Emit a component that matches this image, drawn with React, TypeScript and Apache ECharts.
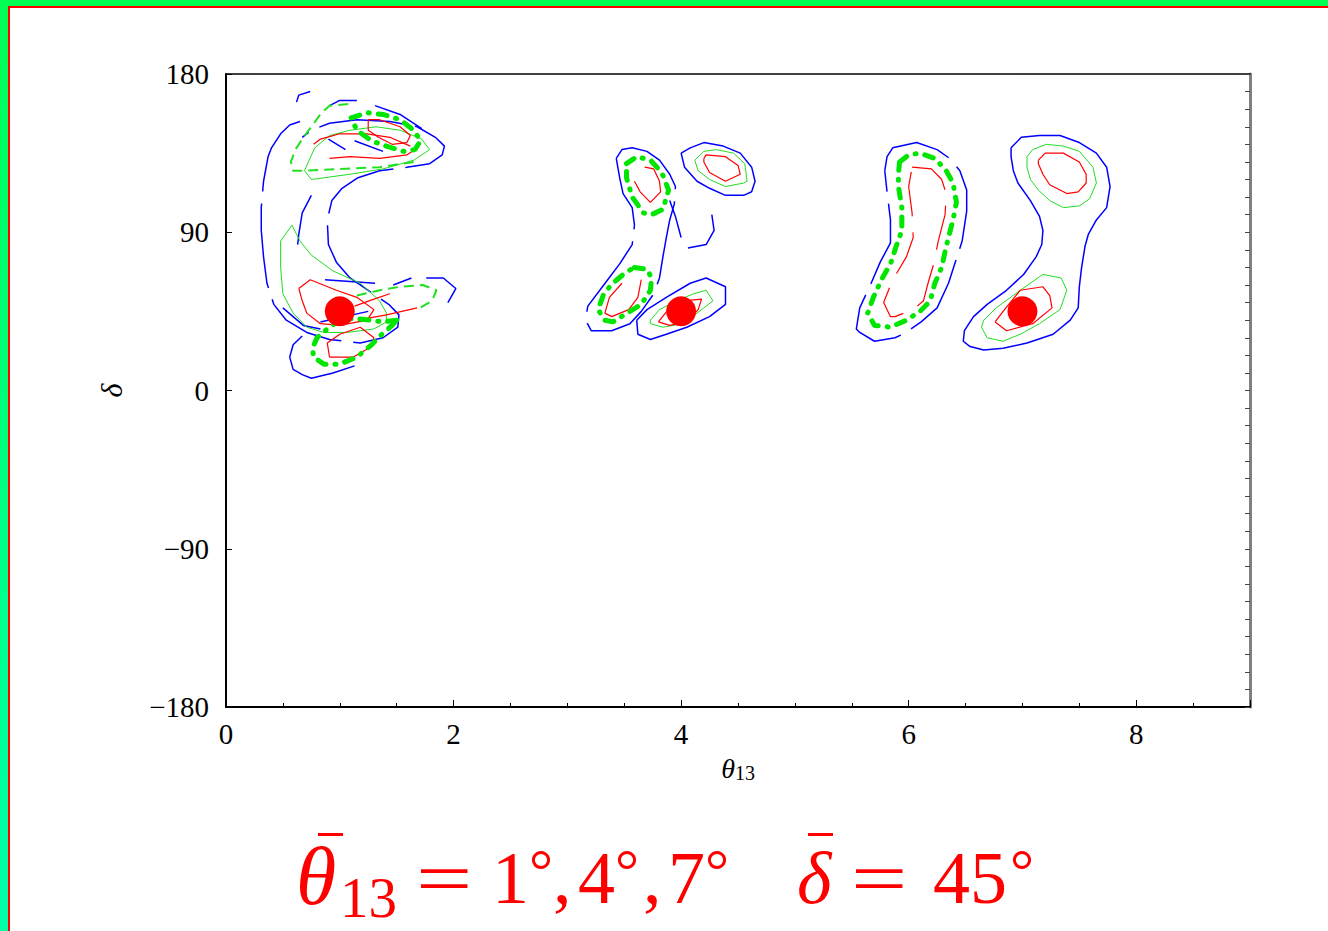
import React, { useEffect, useRef } from 'react';
import * as echarts from 'echarts';

// True points (θ13, δ) in degrees
const THETA_TRUE = [1, 4, 7];
const DELTA_TRUE = [45, 45, 45];

const X_MIN = 0, X_MAX = 9, X_STEP = 2;
const Y_MIN = -180, Y_MAX = 180, Y_STEP = 90;

// ---------- θ13 = 1° group ----------
const blue1Main = [[0.65,153],[0.56,151],[0.48,146],[0.40,138],[0.37,133],[0.33,119],[0.31,104],[0.31,91],[0.33,76],[0.36,61],[0.42,49],[0.53,40],[0.71,33],[0.91,29],[1.18,27],[1.38,30],[1.51,36],[1.52,43],[1.43,49],[1.25,57],[1.09,64],[0.97,73],[0.90,83],[0.89,97],[0.93,108],[1.02,115],[1.16,121],[1.35,125],[1.59,127],[1.79,129],[1.90,134],[1.92,139],[1.84,144],[1.68,150],[1.44,153],[1.15,154],[0.91,152],[0.75,148],[0.67,144]];
const blue1Low = [[0.67,31],[0.59,26],[0.56,19],[0.59,12],[0.67,9],[0.75,7],[0.94,10],[1.13,14]];
const blue1RightA = [[1.47,60],[1.63,64]];
const blue1RightB = [[1.76,64],[1.91,64],[2.02,58],[1.95,50]];
const blue1Inner = [[0.75,111],[0.67,101],[0.64,89],[0.63,83]];
const blue1Horiz = [[0.87,63],[1.31,61]];
const blue1LowLeft = [[0.50,47],[0.68,37],[0.83,35]];
const blue1NearDot = [[0.83,39],[1.25,45]];
const blue1TopA = [[0.62,164],[0.64,168],[0.74,170]];
const blue1TopB = [[0.91,162],[1.00,165],[1.15,165]];
const blue1TopC = [[1.31,162],[1.53,157],[1.72,149]];
const blue1InTopA = [[0.90,143],[1.05,137]];
const blue1InTopB = [[1.13,142],[1.38,136]];

const green1Low = [[0.58,94],[0.65,85],[0.75,77],[0.94,68],[1.18,61],[1.35,51],[1.41,44],[1.41,39],[1.30,35],[1.06,33],[0.86,33],[0.71,36],[0.59,44],[0.50,55],[0.48,70],[0.48,85],[0.58,94]];
const green1Up = [[0.69,125],[0.75,120],[1.09,123],[1.38,126],[1.65,131],[1.79,137],[1.72,143],[1.53,148],[1.32,150],[1.09,148],[0.91,145],[0.78,138],[0.69,125]];
const green1ThickUp = [[1.10,155],[1.24,158],[1.38,157],[1.53,154],[1.65,148],[1.71,142],[1.66,137],[1.56,136],[1.41,139],[1.28,142],[1.15,148],[1.10,155]];
const green1ThickLow = [[1.50,40],[1.38,39],[1.27,40],[1.12,41],[1.00,40],[0.89,35],[0.80,30],[0.76,24],[0.77,19],[0.86,15],[1.00,15],[1.15,19],[1.28,26],[1.37,32],[1.46,37],[1.50,40]];
const green1DashUp = [[1.65,130],[1.35,127],[1.00,126],[0.69,125],[0.59,125],[0.57,130],[0.61,137],[0.67,143],[0.75,150],[0.84,158],[0.91,162],[1.09,163]];
const green1DashRight = [[1.15,54],[1.35,57],[1.53,59],[1.73,60],[1.85,57],[1.81,51],[1.68,46]];

const red1Dot = [[0.64,58],[0.74,63],[0.97,57],[1.15,53],[1.30,46],[1.24,40],[1.00,37],[0.83,38],[0.71,44],[0.67,51],[0.64,58]];
const red1Low = [[0.91,19],[0.89,27],[1.00,32],[1.18,36],[1.30,30],[1.28,25],[1.12,19],[0.91,19]];
const red1StrokeA = [[1.13,48],[1.30,52],[1.44,55]];
const red1StrokeB = [[1.24,41],[1.41,43],[1.68,47]];
const red1Top = [[1.25,154],[1.35,154],[1.53,150],[1.62,145],[1.59,141],[1.46,140],[1.34,144],[1.25,148],[1.25,154]];
const red1UpperA = [[0.77,140],[0.83,143],[1.00,146],[1.24,146],[1.44,144],[1.62,139]];
const red1UpperB = [[0.91,132],[1.09,133],[1.35,132],[1.59,134],[1.66,137]];

// ---------- θ13 = 4° group ----------
const blue4Left = [[3.43,132],[3.48,137],[3.57,138],[3.70,136],[3.81,131],[3.90,123],[3.95,116],[3.94,106],[3.90,97],[3.87,87],[3.84,76],[3.81,64],[3.76,55],[3.65,45],[3.55,38],[3.39,34],[3.21,34],[3.16,40],[3.18,48],[3.32,60],[3.46,72],[3.57,83],[3.59,94],[3.57,104],[3.49,112],[3.46,121],[3.43,132]];
const blue4StrokeA = [[3.90,108],[3.95,99],[4.00,87]];
const blue4StrokeB = [[4.27,100],[4.29,91],[4.22,83],[4.06,81]];
const blue4UpRight = [[4.00,135],[4.08,138],[4.20,141],[4.37,139],[4.52,135],[4.62,127],[4.65,119],[4.62,113],[4.55,111],[4.39,111],[4.25,115],[4.14,119],[4.03,127],[4.00,135]];
const blue4Dot = [[3.61,40],[3.70,46],[3.87,53],[4.08,61],[4.22,64],[4.39,59],[4.39,49],[4.25,42],[4.05,36],[3.87,32],[3.73,29],[3.62,32],[3.61,40]];

const green4UpRight = [[4.12,131],[4.20,136],[4.31,137],[4.46,135],[4.56,129],[4.58,119],[4.55,118],[4.39,116],[4.25,120],[4.15,125],[4.12,131]];
const green4Dot = [[3.73,40],[3.81,46],[3.96,51],[4.11,55],[4.22,57],[4.28,51],[4.20,47],[4.02,38],[3.84,36],[3.73,38],[3.73,40]];
const green4ThickUp = [[3.52,129],[3.61,133],[3.73,131],[3.83,124],[3.89,114],[3.84,103],[3.74,100],[3.67,101],[3.57,110],[3.52,121],[3.52,129]];
const green4ThickLow = [[3.59,70],[3.70,69],[3.74,64],[3.73,57],[3.65,49],[3.55,45],[3.40,39],[3.33,40],[3.27,46],[3.32,55],[3.40,61],[3.51,67],[3.59,70]];

const red4UpRight = [[4.20,132],[4.22,134],[4.39,133],[4.50,128],[4.52,123],[4.39,119],[4.25,124],[4.20,130],[4.20,132]];
const red4UpLeft = [[3.68,127],[3.76,126],[3.81,119],[3.82,113],[3.73,107],[3.64,113],[3.59,119]];
const red4LowLeft = [[3.48,61],[3.37,53],[3.33,44],[3.39,42],[3.54,46],[3.62,53],[3.65,63]];
const red4Dot = [[3.80,39],[3.90,47],[4.02,51],[4.18,52],[4.15,46],[4.05,39],[3.90,37],[3.80,39]];

// ---------- θ13 = 7° group ----------
const blue6 = [[5.79,125],[5.81,133],[5.86,138],[6.07,141],[6.25,137],[6.36,132],[6.45,125],[6.51,114],[6.51,102],[6.47,85],[6.42,75],[6.35,61],[6.25,47],[6.11,39],[5.95,32],[5.88,30],[5.70,28],[5.57,33],[5.54,35],[5.57,47],[5.67,61],[5.75,73],[5.84,84],[5.84,97],[5.81,113],[5.79,125]];
const green6Thick = [[5.92,130],[6.00,134],[6.10,135],[6.23,132],[6.33,125],[6.39,118],[6.42,107],[6.39,97],[6.33,82],[6.29,70],[6.23,61],[6.19,51],[6.10,45],[5.98,40],[5.84,36],[5.70,37],[5.64,44],[5.69,53],[5.76,63],[5.84,72],[5.89,82],[5.94,91],[5.94,104],[5.91,116],[5.91,123],[5.92,130]];
const red6 = [[6.03,127],[6.20,126],[6.29,120],[6.33,112],[6.32,100],[6.26,85],[6.22,72],[6.17,61],[6.13,51],[6.04,46],[5.88,42],[5.84,42],[5.78,50],[5.86,63],[5.98,76],[6.04,87],[6.03,101],[6.00,116],[6.03,127]];

const blue7 = [[6.90,138],[6.99,144],[7.15,145],[7.33,145],[7.50,141],[7.65,135],[7.74,127],[7.77,116],[7.74,104],[7.65,97],[7.58,89],[7.55,82],[7.52,70],[7.50,59],[7.49,47],[7.42,40],[7.27,32],[7.04,27],[6.83,24],[6.66,23],[6.54,25],[6.48,28],[6.49,34],[6.57,42],[6.69,49],[6.86,57],[7.01,66],[7.12,76],[7.17,83],[7.18,91],[7.15,99],[7.07,108],[6.96,118],[6.92,125],[6.90,133],[6.90,138]];
const green7Up = [[7.04,133],[7.09,137],[7.21,140],[7.36,139],[7.50,136],[7.62,127],[7.65,118],[7.59,109],[7.50,105],[7.36,104],[7.24,108],[7.14,114],[7.07,120],[7.04,127],[7.04,133]];
const red7Up = [[7.14,131],[7.20,135],[7.36,135],[7.50,130],[7.56,123],[7.56,118],[7.49,113],[7.39,112],[7.24,117],[7.18,123],[7.14,129],[7.14,131]];
const green7Dot = [[6.66,40],[6.77,47],[6.98,57],[7.18,66],[7.34,64],[7.39,57],[7.33,46],[7.15,38],[6.98,32],[6.83,28],[6.69,30],[6.64,36],[6.66,40]];
const red7Dot = [[6.76,39],[6.83,45],[6.98,57],[7.18,59],[7.24,54],[7.26,47],[7.09,38],[6.86,34],[6.76,39]];

// which style each contour uses
const CONTOURS: [number[][], string][] = [
  [blue1Main, 'blueDash'], [blue1Low, 'blue'], [blue1RightA, 'blue'], [blue1RightB, 'blue'],
  [blue1Inner, 'blue'], [blue1Horiz, 'blue'], [blue1LowLeft, 'blue'], [blue1NearDot, 'blue'],
  [blue1TopA, 'blue'], [blue1TopB, 'blue'], [blue1TopC, 'blue'], [blue1InTopA, 'blue'], [blue1InTopB, 'blue'],
  [blue4Left, 'blueDash'], [blue4StrokeA, 'blue'], [blue4StrokeB, 'blue'], [blue4UpRight, 'blue'], [blue4Dot, 'blue'],
  [blue6, 'blueDash'], [blue7, 'blue'],
  [green1Low, 'green'], [green1Up, 'green'], [green4UpRight, 'green'], [green4Dot, 'green'],
  [green7Up, 'green'], [green7Dot, 'green'],
  [green1DashUp, 'greenDash'], [green1DashRight, 'greenDash'],
  [red1Dot, 'red'], [red1Low, 'red'], [red1StrokeA, 'red'], [red1StrokeB, 'red'], [red1Top, 'red'],
  [red1UpperA, 'red'], [red1UpperB, 'red'],
  [red4UpRight, 'red'], [red4UpLeft, 'red'], [red4LowLeft, 'red'], [red4Dot, 'red'],
  [red6, 'redDash'], [red7Up, 'red'], [red7Dot, 'red'],
  [green1ThickUp, 'greenThick'], [green1ThickLow, 'greenThick'],
  [green4ThickUp, 'greenThick'], [green4ThickLow, 'greenThick'], [green6Thick, 'greenThick'],
];

const STYLES: Record<string, any> = {
  blue: { color: '#0000ff', width: 1.5 },
  blueDash: { color: '#0000ff', width: 1.5, type: [85, 12] },
  green: { color: '#22dd22', width: 1 },
  greenDash: { color: '#22e022', width: 2, type: [10, 6] },
  greenThick: { color: '#00e600', width: 5, type: [9, 9, 1, 9], cap: 'round' },
  red: { color: '#ff0000', width: 1.2 },
  redDash: { color: '#ff0000', width: 1.2, type: [45, 16] },
};

// bottom caption pieces: text, left x, style key
const CAPTION: [string, number, string][] = [
  ['\u03b8', 296, 'itBig'], ['13', 340, 'sub'], ['=', 416, 'eq'],
  ['1', 492, 'rm'], ['\u00b0', 529, 'deg'], [',', 553, 'rm'],
  ['4', 578, 'rm'], ['\u00b0', 615, 'deg'], [',', 643, 'rm'],
  ['7', 668, 'rm'], ['\u00b0', 705, 'deg'],
  ['\u03b4', 797, 'it'], ['=', 851, 'eq'], ['45', 933, 'rm'], ['\u00b0', 1010, 'deg'],
];
const CAPTION_BARS = [318, 808];

const SERIF = '"Liberation Serif", "Times New Roman", serif';

export default function App() {
  const ref = useRef<HTMLDivElement>(null);
  useEffect(() => {
    const chart = echarts.init(ref.current!, null, { renderer: 'svg' });
    const fmt = (v: number) => (v < 0 ? '\u2212' + Math.abs(v) : String(v));
    const series: any[] = CONTOURS.map(([data, st]) => ({
      type: 'line',
      data,
      showSymbol: false,
      symbol: 'none',
      silent: true,
      lineStyle: STYLES[st],
      xAxisIndex: 0,
      yAxisIndex: 0,
    }));
    series.push({
      type: 'scatter',
      data: THETA_TRUE.map((t, i) => [t, DELTA_TRUE[i]]),
      symbolSize: 30,
      itemStyle: { color: '#ff0000', opacity: 1 },
      z: 5,
      silent: true,
    });
    const red = '#ff0000';
    const capFont: Record<string, { font: string; y: number; sx?: number }> = {
      itBig: { font: `italic 82px ${SERIF}`, y: 876 },
      it: { font: `italic 74px ${SERIF}`, y: 878 },
      rm: { font: `normal 74px ${SERIF}`, y: 878 },
      eq: { font: `normal 74px ${SERIF}`, y: 878, sx: 1.35 },
      deg: { font: `normal 60px ${SERIF}`, y: 871 },
      sub: { font: `normal 57px ${SERIF}`, y: 897 },
    };
    const captionEls: any[] = CAPTION.map(([t, x, k]) => ({
      type: 'text',
      x,
      y: capFont[k].y,
      scaleX: capFont[k].sx || 1,
      silent: true,
      style: { text: t, font: capFont[k].font, fill: red, textAlign: 'left', textVerticalAlign: 'middle', verticalAlign: 'middle' },
    }));
    CAPTION_BARS.forEach((bx) => {
      captionEls.push({ type: 'rect', shape: { x: bx, y: 833, width: 25, height: 3 }, style: { fill: red }, silent: true });
    });
    chart.setOption({
      animation: false,
      backgroundColor: '#ffffff',
      grid: { left: 226, top: 74, right: 78, bottom: 224, containLabel: false },
      xAxis: [
        {
          type: 'value', position: 'bottom', min: X_MIN, max: X_MAX, interval: X_STEP,
          axisLine: { show: true, onZero: false, lineStyle: { color: '#000', width: 2 } },
          axisTick: { show: true, inside: true, length: 7, lineStyle: { color: '#000', width: 1 } },
          minorTick: { show: true, splitNumber: 4, length: 4, lineStyle: { color: '#000', width: 1 } },
          splitLine: { show: false },
          axisLabel: { fontFamily: SERIF, fontSize: 29, color: '#000', margin: 12, showMaxLabel: false },
          name: '{a|\u03b8}{b|13}',
          nameLocation: 'middle',
          nameGap: 46,
          nameTextStyle: {
            rich: {
              a: { fontFamily: SERIF, fontStyle: 'italic', fontSize: 28, color: '#000', lineHeight: 30 },
              b: { fontFamily: SERIF, fontSize: 20, color: '#000', lineHeight: 20, verticalAlign: 'bottom' },
            },
          },
        },
        {
          type: 'value', position: 'top', min: X_MIN, max: X_MAX,
          axisLine: { show: true, onZero: false, lineStyle: { color: '#000', width: 1.5 } },
          axisTick: { show: false }, axisLabel: { show: false }, splitLine: { show: false },
        },
      ],
      yAxis: [
        {
          type: 'value', position: 'left', min: Y_MIN, max: Y_MAX, interval: Y_STEP,
          axisLine: { show: true, onZero: false, lineStyle: { color: '#000', width: 2 } },
          axisTick: { show: true, inside: true, length: 6, lineStyle: { color: '#000', width: 1 } },
          splitLine: { show: false },
          axisLabel: { fontFamily: SERIF, fontSize: 29, color: '#000', margin: 17, formatter: fmt },
          name: '\u03b4',
          nameLocation: 'middle',
          nameRotate: 90,
          nameGap: 100,
          nameTextStyle: { fontFamily: SERIF, fontStyle: 'italic', fontSize: 30, color: '#000' },
        },
        {
          type: 'value', position: 'right', min: Y_MIN, max: Y_MAX, interval: Y_STEP,
          axisLine: { show: true, onZero: false, lineStyle: { color: '#808080', width: 3 } },
          axisTick: { show: true, inside: true, length: 5, lineStyle: { color: '#444', width: 1 } },
          minorTick: { show: true, splitNumber: 9, length: 5, lineStyle: { color: '#444', width: 1 } },
          axisLabel: { show: false }, splitLine: { show: false },
        },
      ],
      graphic: [
        {
          type: 'rect', shape: { x: 0, y: 0, width: 8, height: 931 }, silent: true,
          style: { fill: new echarts.graphic.LinearGradient(0, 0, 0, 1, [
            { offset: 0, color: '#00ff55' }, { offset: 1, color: '#00ffaa' },
          ]) },
        },
        { type: 'rect', shape: { x: 0, y: 0, width: 1328, height: 6 }, style: { fill: '#00ff55' }, silent: true },
        { type: 'rect', shape: { x: 8, y: 6, width: 2, height: 925 }, style: { fill: '#ff0000' }, silent: true },
        { type: 'rect', shape: { x: 8, y: 6, width: 1320, height: 2 }, style: { fill: '#ff0000' }, silent: true },
        ...captionEls,
      ],
      series,
    });
    return () => chart.dispose();
  }, []);
  return (
    <div
      ref={ref}
      style={{ position: 'fixed', left: 0, top: 0, width: 1328, height: 931, background: '#fff' }}
    />
  );
}
